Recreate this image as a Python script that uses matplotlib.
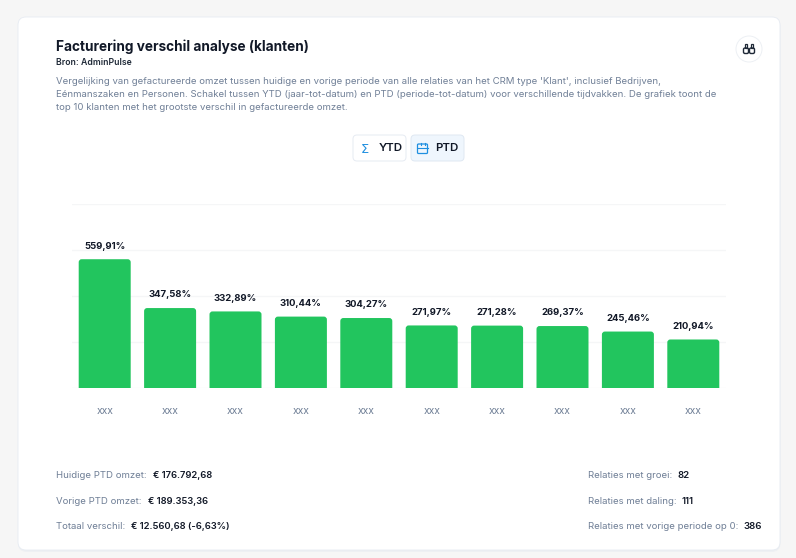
import matplotlib
matplotlib.use('Agg')
import matplotlib.pyplot as plt
from matplotlib.patches import FancyBboxPatch, Circle, Rectangle

plt.rcParams['font.family'] = ['Inter', 'DejaVu Sans']

W, H = 796, 558
PX = 0.72  # css px to pt at dpi 100

# data
categories = ['xxx'] * 10
values = [559.91, 347.58, 332.89, 310.44, 304.27, 271.97, 271.28, 269.37, 245.46, 210.94]
y_ticks = [0, 200, 400, 600, 800]

title = 'Facturering verschil analyse (klanten)'
source = 'Bron: AdminPulse'
description = [
    "Vergelijking van gefactureerde omzet tussen huidige en vorige periode van alle relaties van het CRM type 'Klant', inclusief Bedrijven,",
    'Eénmanszaken en Personen. Schakel tussen YTD (jaar-tot-datum) en PTD (periode-tot-datum) voor verschillende tijdvakken. De grafiek toont de',
    'top 10 klanten met het grootste verschil in gefactureerde omzet.',
]
left_labels = ['Huidige PTD omzet:', 'Vorige PTD omzet:', 'Totaal verschil:']
left_values = ['€ 176.792,68', '€ 189.353,36', '€ 12.560,68 (-6,63%)']
left_value_x = [153, 148, 131]
right_labels = ['Relaties met groei:', 'Relaties met daling:', 'Relaties met vorige periode op 0:']
right_values = ['82', '111', '386']
right_value_x = [677, 682, 743]
stat_y = [478.5, 503.5, 529]

DARK = '#111827'
GREY = '#6f7f96'
BLUE = '#1f8fe0'
BORDER = '#e6ebf2'
GREEN = '#22c55e'

fig = plt.figure(figsize=(W / 100, H / 100), dpi=100, facecolor='#f6f6f6')

# page layer in pixel coordinates
bg = fig.add_axes([0, 0, 1, 1])
bg.set_xlim(0, W)
bg.set_ylim(H, 0)
bg.axis('off')


def box(x0, y0, x1, y1, r, fc, ec, lw=1.0, z=1):
    bg.add_patch(FancyBboxPatch((x0 + r, y0 + r), x1 - x0 - 2 * r, y1 - y0 - 2 * r,
                                boxstyle=f'round,pad={r},rounding_size={r}',
                                fc=fc, ec=ec, lw=lw, zorder=z))


# card with soft shadow
box(18, 18, 780.5, 552, 9, '#eef0f3', 'none', z=1)
box(18, 17, 780, 550, 8, 'white', BORDER, 0.6, z=2)

bg.text(56, 51, title, fontsize=13.66 * PX, fontweight='bold', color=DARK, va='baseline', zorder=5)
bg.text(56, 65, source, fontsize=8.7 * PX, fontweight='semibold', color='#1f2937', va='baseline', zorder=5)
for i, line in enumerate(description):
    bg.text(56, 84 + i * 13, line, fontsize=9.58 * PX, color=GREY, va='baseline', zorder=5)

# binoculars button
bg.add_patch(Circle((749, 49), 13, fc='white', ec='#edf0f4', lw=0.7, zorder=3))
for bx in (743.5, 749.5):
    box(bx, 48, bx + 5, 53.5, 1.5, 'none', '#1f2937', 1.0, z=4)
    bg.add_patch(Rectangle((bx + 1.2, 43.5), 2.6, 4.5, fc='none', ec='#1f2937', lw=0.9, zorder=4))

# YTD / PTD buttons
box(353, 135, 406, 161, 4, 'white', BORDER, 0.7, z=3)
box(411, 135, 464, 161, 4, '#eff6fd', '#dfe8f2', 0.7, z=3)
bg.text(365.3, 153, 'Σ', fontsize=13 * PX, color=BLUE, ha='center', va='baseline',
        family='DejaVu Sans', zorder=5)
bg.text(379, 148, 'YTD', fontsize=11.5 * PX, fontweight='semibold', color=DARK, va='center', zorder=5)
box(417.5, 144, 427.5, 153.5, 1, 'none', BLUE, 0.9, z=5)
bg.plot([417.5, 427.5], [147.5, 147.5], color=BLUE, lw=0.8, zorder=5)
bg.plot([420.5, 420.5], [142.5, 145], color=BLUE, lw=0.8, zorder=5)
bg.plot([424.5, 424.5], [142.5, 145], color=BLUE, lw=0.8, zorder=5)
bg.text(435.5, 148, 'PTD', fontsize=11.5 * PX, fontweight='semibold', color=DARK, va='center', zorder=5)

# footer stats
for label, value, vx, y in zip(left_labels, left_values, left_value_x, stat_y):
    bg.text(56, y, label, fontsize=9.6 * PX, color=GREY, va='baseline', zorder=5)
    bg.text(vx, y, value, fontsize=9.4 * PX, fontweight='semibold', color=DARK, va='baseline', zorder=5)
for label, value, vx, y in zip(right_labels, right_values, right_value_x, stat_y):
    bg.text(587.5, y, label, fontsize=9.6 * PX, color=GREY, va='baseline', zorder=5)
    bg.text(vx, y, value, fontsize=9.6 * PX, fontweight='semibold', color=DARK, va='baseline', zorder=5)

# bar chart
ax = fig.add_axes([72 / W, 1 - 388 / H, 654 / W, 184 / H], facecolor='none')
ax.set_xlim(-0.5, 9.5)
ax.set_ylim(y_ticks[0], y_ticks[-1])
for s in ax.spines.values():
    s.set_visible(False)
ax.set_yticks(y_ticks)
ax.set_yticklabels([])
ax.grid(axis='y', color='#f5f6f7', lw=1.0)
ax.set_axisbelow(True)
ax.set_xticks(range(len(categories)))
ax.set_xticklabels(categories, fontsize=10.4 * PX, color=GREY)
ax.tick_params(length=0, pad=13)

bar_w = 0.795
px_x = 654 / 10
px_y = 184 / (y_ticks[-1] - y_ticks[0])
r = 3 / px_x
for i, v in enumerate(values):
    # rounded top; the bottom corners run under the axis and get clipped
    ax.add_patch(FancyBboxPatch((i - bar_w / 2 + r, -40), bar_w - 2 * r, v + 40 - 3 / px_y,
                                boxstyle=f'round,pad={r},rounding_size={r}',
                                mutation_aspect=(1 / px_y) / (1 / px_x),
                                fc=GREEN, ec='none', zorder=3))
    ax.annotate(f'{v:.2f}'.replace('.', ',') + '%', (i, v), xytext=(0, 10.7 * 0.72), textcoords='offset points',
                ha='center', va='baseline', fontsize=9.5 * PX, fontweight='bold', color=DARK, zorder=4)

fig.savefig('out.png', dpi=100)
